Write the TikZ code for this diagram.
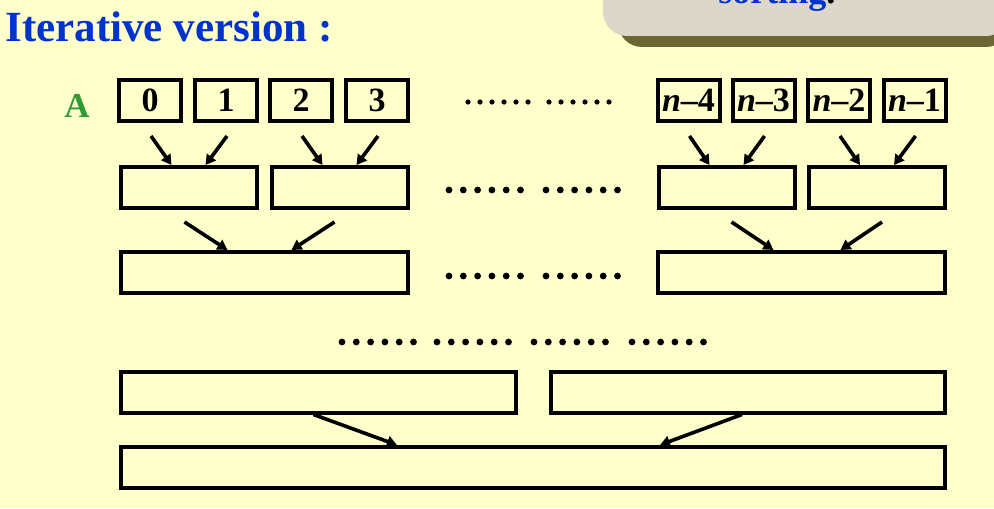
\documentclass[tikz,border=0pt]{standalone}
\usepackage{fontspec}
\setmainfont{Liberation Serif}
\usepackage{tikz}
\usetikzlibrary{arrows.meta,calc}
\definecolor{paper}{RGB}{255,255,204}
\definecolor{titleblue}{RGB}{0,51,204}
\definecolor{agreen}{RGB}{51,153,51}
\definecolor{slate}{RGB}{221,215,203}
\definecolor{olive}{RGB}{107,102,51}

\begin{document}
\begin{tikzpicture}[x=0.5pt, y=-0.5pt,
  cell/.style={draw, line width=2pt, minimum width=31pt, minimum height=20.5pt, inner sep=0pt, font=\fontsize{17}{17}\selectfont\bfseries},
  run/.style={draw, line width=2pt, minimum height=20.5pt, inner sep=0pt},
  arr/.style={line width=1.8pt, -{Triangle[length=5pt,width=5.5pt]}}]
  \useasboundingbox[fill=paper] (0,0) rectangle (994,508);
  % corner of the slide box
  \fill[olive, rounded corners=12pt] (618,-40) rectangle (1010,47);
  \fill[slate, rounded corners=12pt] (603,-40) rectangle (1010,36);
  \node (cap) [anchor=base west, inner sep=0pt, font=\fontsize{18}{18}\selectfont\bfseries] at (718,4) {\textcolor{titleblue}{sorting}.};
  \node (title) [anchor=base west, inner sep=0pt, text=titleblue, font=\fontsize{21.5}{21.5}\selectfont\bfseries] at (5,42) {Iterative version :};
  \node (A) [anchor=base, inner sep=0pt, text=agreen, font=\fontsize{17.5}{17.5}\selectfont\bfseries] at (77,118) {A};
  \node (c0) [cell] at (150,100.5) {0};
  \node (c1) [cell] at (226,100.5) {1};
  \node (c2) [cell] at (301,100.5) {2};
  \node (c3) [cell] at (377,100.5) {3};
  \node (c4) [cell] at (688.5,100.5) {{\itshape n}--4};
  \node (c5) [cell] at (763.5,100.5) {{\itshape n}--3};
  \node (c6) [cell] at (839,100.5) {{\itshape n}--2};
  \node (c7) [cell] at (914.5,100.5) {{\itshape n}--1};
  \node (m1) [run, minimum width=68pt] at (188.5,187.5) {};
  \node (m2) [run, minimum width=68pt] at (339.5,187.5) {};
  \node (m3) [run, minimum width=68pt] at (726.5,187.5) {};
  \node (m4) [run, minimum width=68pt] at (877,187.5) {};
  \node (p1) [run, minimum width=143.5pt] at (264.5,272.5) {};
  \node (p2) [run, minimum width=143.5pt] at (801.5,272.5) {};
  \node (q1) [run, minimum width=197.5pt] at (318.5,392) {};
  \node (q2) [run, minimum width=197pt] at (748,392) {};
  \node (r) [run, minimum width=412pt] at (533,467.5) {};
  \draw[arr] ($(c0.south)+(1,13)$) -- ($(m1.north)+(-17,0)$);
  \draw[arr] ($(c1.south)+(1,13)$) -- ($(m1.north)+(17,0)$);
  \draw[arr] ($(c2.south)+(1,13)$) -- ($(m2.north)+(-17,0)$);
  \draw[arr] ($(c3.south)+(1,13)$) -- ($(m2.north)+(17,0)$);
  \draw[arr] ($(c4.south)+(1,13)$) -- ($(m3.north)+(-17,0)$);
  \draw[arr] ($(c5.south)+(1,13)$) -- ($(m3.north)+(17,0)$);
  \draw[arr] ($(c6.south)+(1,13)$) -- ($(m4.north)+(-17,0)$);
  \draw[arr] ($(c7.south)+(1,13)$) -- ($(m4.north)+(17,0)$);
  \draw[arr] ($(m1.south)+(-4,12)$) -- ($(p1.north)+(-37,0)$);
  \draw[arr] ($(m2.south)+(-5,12)$) -- ($(p1.north)+(27,0)$);
  \draw[arr] ($(m3.south)+(5,12)$) -- ($(p2.north)+(-28,0)$);
  \draw[arr] ($(m4.south)+(5,12)$) -- ($(p2.north)+(39,0)$);
  \draw[arr] ($(q1.south)+(-5,0)$) -- ($(r.north)+(-136,0)$);
  \draw[arr] ($(q2.south)+(-6,0)$) -- ($(r.north)+(127,0)$);
  % the dots
  \foreach \x in {0,...,5} {
    \fill (468+12*\x,102) circle[radius=1.3pt];
    \fill (549+12*\x,102) circle[radius=1.3pt];
  }
  \foreach \y in {190,276}
    \foreach \x in {0,...,5} {
      \fill (449+14.3*\x,\y) circle[radius=1.7pt];
      \fill (546+14.3*\x,\y) circle[radius=1.7pt];
    }
  \foreach \g in {342,437,534,632}
    \foreach \x in {0,...,5}
      \fill (\g+14.3*\x,342) circle[radius=1.7pt];
\end{tikzpicture}
\end{document}
